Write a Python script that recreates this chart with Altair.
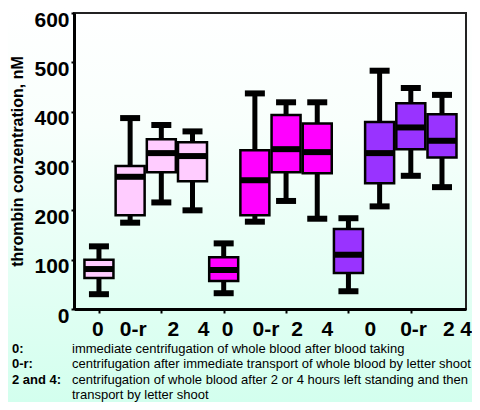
import altair as alt
import pandas as pd

# ---- data ----
categories = ["0", "0-r", "2", "4"]
groups = ["A", "B", "C"]
group_colors = ["#FFCCFF", "#FF00FF", "#9933FF"]

mins = [30, 175, 216, 200, 32, 177, 219, 183, 36, 208, 270, 247]
q1s = [63, 190, 277, 259, 57, 190, 277, 275, 73, 255, 324, 307]
meds = [81, 268, 316, 310, 79, 261, 324, 318, 110, 316, 368, 341]
q3s = [100, 290, 344, 338, 105, 322, 393, 376, 162, 379, 417, 395]
maxs = [127, 387, 373, 360, 133, 437, 419, 419, 184, 483, 448, 434]

y_ticks = [0, 100, 200, 300, 400, 500, 600]

note_keys = ["0:", "0-r:", "2 and 4:", ""]
note_texts = [
    "immediate centrifugation of whole blood after blood taking",
    "centrifugation after immediate transport of whole blood by letter shoot",
    "centrifugation of whole blood after 2 or 4 hours left standing and then",
    "transport by letter shoot",
]

# ---- styling ----
W, H = 392, 296
FONT = "Liberation Sans"
X_DOMAIN = [0.2, 12.77]
PX_PER_UNIT = W / (X_DOMAIN[1] - X_DOMAIN[0])
x_label_shift_px = [-1, 3, 12, 11, 4, 11, 11, 10, 22, 34, 38, 24]

# ---- tables ----
rows = []
for i in range(12):
    rows.append(dict(pos=i + 1, cat=categories[i % 4], grp=groups[i // 4],
                     lo=mins[i], q1=q1s[i], med=meds[i], q3=q3s[i], hi=maxs[i],
                     shift=x_label_shift_px[i] / PX_PER_UNIT))
df = pd.DataFrame(rows)
notes = pd.DataFrame({"row": list(range(len(note_texts))), "key": note_keys, "desc": note_texts})

xscale = alt.Scale(domain=X_DOMAIN, nice=False, zero=False)
yscale = alt.Scale(domain=[0, 600], nice=False, zero=True)

x_axis = alt.Axis(
    values=list(range(1, 13)), title=None, grid=False, labels=False, zindex=1,
    domainColor="black", domainWidth=3, tickColor="black", tickWidth=2, tickSize=4,
)
y_axis = alt.Axis(
    values=y_ticks, grid=False, zindex=1,
    title="thrombin conzentration, nM", titleFont=FONT, titleFontSize=16,
    titleFontWeight="bold", titleColor="black", titlePadding=8,
    labelFont=FONT, labelFontWeight="bold", labelFontSize=21, labelColor="black",
    labelPadding=2, labelOffset=7,
    domainColor="black", domainWidth=3, tickColor="black", tickWidth=2, tickSize=3,
)

gradient = alt.LinearGradient(
    gradient="linear",
    stops=[alt.GradientStop(offset=0, color="#FFFFFF"),
           alt.GradientStop(offset=0.3, color="#F8FFFC"),
           alt.GradientStop(offset=1, color="#D3FFEE")],
    x1=0, x2=0, y1=0, y2=1,
)

one = alt.Data(values=[{"a": 1}])
bg = alt.Chart(one).mark_rect(color=gradient).encode(
    x=alt.value(-66), x2=alt.value(W + 6), y=alt.value(-5), y2=alt.value(H + 93)
)
frame = alt.Chart(one).mark_rect(fillOpacity=0, stroke="#222222", strokeWidth=2).encode(
    x=alt.value(0), x2=alt.value(W), y=alt.value(0), y2=alt.value(H)
)

base = alt.Chart(df)

whisk = base.mark_rule(color="black", strokeWidth=5).encode(
    x=alt.X("pos:Q", scale=xscale, axis=x_axis),
    y=alt.Y("lo:Q", scale=yscale, axis=y_axis),
    y2="hi:Q",
)
cap_lo = base.mark_tick(orient="horizontal", color="black", size=20, thickness=6, opacity=1).encode(
    x=alt.X("pos:Q", scale=xscale),
    y=alt.Y("lo:Q", scale=yscale),
)
cap_hi = base.mark_tick(orient="horizontal", color="black", size=20, thickness=6, opacity=1).encode(
    x=alt.X("pos:Q", scale=xscale),
    y=alt.Y("hi:Q", scale=yscale),
)
box = base.transform_calculate(
    xl="datum.pos - 0.465", xr="datum.pos + 0.465"
).mark_rect(stroke="black", strokeWidth=2.5).encode(
    x=alt.X("xl:Q", scale=xscale),
    x2="xr:Q",
    y=alt.Y("q1:Q", scale=yscale),
    y2="q3:Q",
    fill=alt.Fill("grp:N", scale=alt.Scale(domain=groups, range=group_colors), legend=None),
)
median = base.mark_tick(orient="horizontal", color="black", size=29, thickness=6, opacity=1).encode(
    x=alt.X("pos:Q", scale=xscale),
    y=alt.Y("med:Q", scale=yscale),
)
xlabels = base.transform_calculate(lx="datum.pos + datum.shift").mark_text(
    font=FONT, fontSize=21, fontWeight="bold", color="black", baseline="middle", align="center"
).encode(
    x=alt.X("lx:Q", scale=xscale),
    y=alt.value(H + 21),
    text="cat:N",
)

plot = alt.layer(whisk, cap_lo, cap_hi, box, median, xlabels)

note_y = alt.Y("row:Q", scale=alt.Scale(domain=[0, 3], range=[H + 40, H + 86]), axis=None)
note_key = alt.Chart(notes).transform_filter("datum.key != ''").mark_text(
    align="left", baseline="middle", font=FONT, fontSize=13, fontWeight="bold", color="black"
).encode(x=alt.value(-62), y=note_y, text="key:N")
note_desc = alt.Chart(notes).mark_text(
    align="left", baseline="middle", font=FONT, fontSize=13, color="black"
).encode(x=alt.value(-2), y=note_y, text="desc:N")
note_layer = alt.layer(note_key, note_desc)

chart = alt.layer(bg, frame, plot, note_layer).resolve_scale(y="independent").properties(
    width=W, height=H,
    autosize=alt.AutoSizeParams(type="none"),
    padding={"left": 66, "top": 5, "right": 6, "bottom": 93},
    background="white",
).configure_view(stroke=None)

chart.save("out.html", embed_options={"renderer": "svg", "actions": False})
